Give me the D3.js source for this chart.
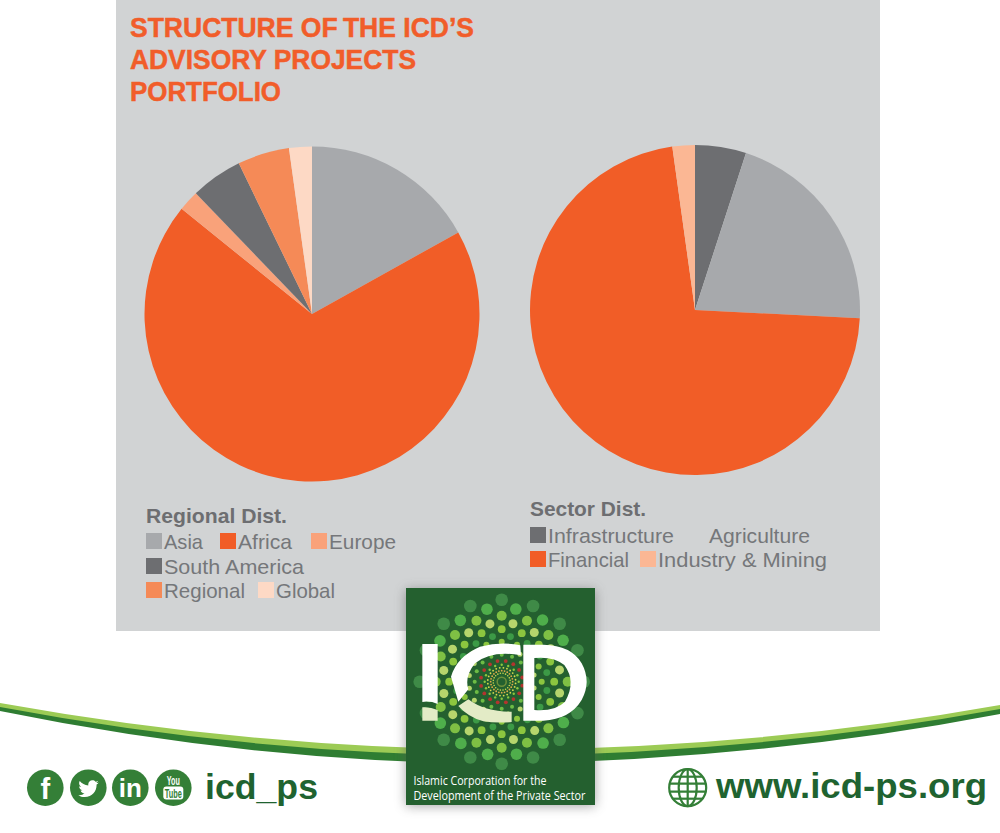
<!DOCTYPE html>
<html>
  <head>
    <meta charset="utf-8">
    <script src="https://cdn.jsdelivr.net/npm/d3@7" type="text/javascript"></script>
    <style>
      html, body { margin: 0; padding: 0; background: #fff; }
      svg { display: block; }
      text { font-family: "Liberation Sans", sans-serif; }
      .title { fill: #f15d2a; stroke: #f15d2a; stroke-width: 0.5px; font-size: 27px; font-weight: bold; }
      .legendhead { fill: #6d6e71; font-size: 21px; font-weight: bold; }
      .legend { fill: #75777a; font-size: 21px; }
      .social { fill: #1f6330; font-size: 35px; font-weight: bold; }
    </style>
  </head>
  <body>
    <svg id="chart" width="1000" height="833"></svg>
    <script>
      var titleLines = ["STRUCTURE OF\u2009THE ICD\u2019S", "ADVISORY PROJECTS", "PORTFOLIO"];

      var regionLabels = ["Asia", "Africa", "Europe", "South America", "Regional", "Global"];
      var regionValues = [16.9, 68.9, 2, 5, 5, 2.2];
      var regionColors = ["#a7a9ac", "#f15d27", "#f9a27a", "#6d6e71", "#f58a57", "#fdd9c5"];

      var sectorLabels = ["Infrastructure", "Agriculture", "Financial", "Industry & Mining"];
      var sectorValues = [5, 20.8, 72, 2.2];
      var sectorColors = ["#6d6e71", "#a7a9ac", "#f15d27", "#fbb794"];

      var svg = d3.select("#chart");

      var defs = svg.append("defs");
      defs.append("filter").attr("id", "blur")
        .attr("x", "-20%").attr("y", "-20%").attr("width", "140%").attr("height", "140%")
        .append("feGaussianBlur").attr("stdDeviation", 6);

      // grey panel
      svg.append("rect").attr("x", 116).attr("y", 0).attr("width", 764).attr("height", 631)
        .style("fill", "#d1d3d4");

      svg.selectAll("text.title").data(titleLines).enter().append("text")
        .attr("class", "title")
        .attr("x", 130)
        .attr("y", (d, i) => 37 + i * 32)
        .attr("textLength", (d, i) => [344, 286, 151][i])
        .attr("lengthAdjust", "spacingAndGlyphs")
        .text(d => d);

      // pies
      function drawPie(labels, values, colors, cx, cy, r) {
        var color = d3.scaleOrdinal().domain(labels).range(colors);
        var pie = d3.pie().sort(null).value((d, i) => values[i]);
        var arc = d3.arc().innerRadius(0).outerRadius(r);
        svg.append("g").attr("transform", "translate(" + cx + "," + cy + ")")
          .selectAll("path").data(pie(labels)).enter().append("path")
          .attr("d", arc)
          .style("fill", d => color(d.data));
        return color;
      }
      var regionColor = drawPie(regionLabels, regionValues, regionColors, 312, 314, 167.5);
      var sectorColor = drawPie(sectorLabels, sectorValues, sectorColors, 695, 310, 165);

      // legends
      function legendItem(label, color, x, y, w) {
        if (color) {
          svg.append("rect").attr("x", x).attr("y", y - 16).attr("width", 16).attr("height", 16)
            .style("fill", color(label));
        }
        svg.append("text").attr("class", "legend").attr("x", x + 18).attr("y", y)
          .attr("textLength", w).attr("lengthAdjust", "spacingAndGlyphs").text(label);
      }
      svg.append("text").attr("class", "legendhead").attr("x", 146).attr("y", 523)
        .attr("textLength", 141).attr("lengthAdjust", "spacingAndGlyphs").text("Regional Dist.");
      legendItem("Asia", regionColor, 146, 549, 39);
      legendItem("Africa", regionColor, 220, 549, 54);
      legendItem("Europe", regionColor, 311, 549, 67);
      legendItem("South America", regionColor, 146, 574, 140);
      legendItem("Regional", regionColor, 146, 598, 81);
      legendItem("Global", regionColor, 258, 598, 59);

      svg.append("text").attr("class", "legendhead").attr("x", 530).attr("y", 516)
        .attr("textLength", 116).attr("lengthAdjust", "spacingAndGlyphs").text("Sector Dist.");
      legendItem("Infrastructure", sectorColor, 530, 543, 126);
      legendItem("Agriculture", null, 691, 543, 101);
      legendItem("Financial", sectorColor, 530, 567, 81);
      legendItem("Industry & Mining", sectorColor, 640, 567, 169);

      // green swoosh
      svg.append("path")
        .attr("d", "M0,704 Q250,752 500,754 Q760,752 1000,707 L1000,714 Q760,760 500,764 Q250,762 0,711 Z")
        .style("fill", "#2f7d32");
      svg.append("path")
        .attr("d", "M0,703 Q250,748 500,750 Q760,748 1000,705 L1000,709 Q760,753 500,756 Q250,754 0,707 Z")
        .style("fill", "#9ccb55");

      // logo
      svg.append("rect").attr("x", 406).attr("y", 590).attr("width", 189).attr("height", 216)
        .style("fill", "#555").style("opacity", 0.55).attr("filter", "url(#blur)");
      svg.append("rect").attr("x", 406).attr("y", 588).attr("width", 189).attr("height", 217)
        .style("fill", "#24602f");

      var logo = svg.append("g").attr("transform", "translate(501.7,681.7)");
      var logoRings = [
        {r: 82, n: 16, off: 0, size: 6.3, fill: "#3f8a47"},
        {r: 74, n: 16, off: 11, size: 5.8, fill: "#4fae4b"},
        {r: 66, n: 16, off: 0, size: 5, fill: "#7fc044"},
        {r: 59, n: 16, off: 11, size: 4.5, fill: "#b6d56c"},
        {r: 52.5, n: 16, off: 0, size: 3.9, fill: "#8cc63f"},
        {r: 46, n: 16, off: 11, size: 3.4, fill: "#3c9a46"},
        {r: 40, n: 16, off: 0, size: 3, fill: "#8cc63f"},
        {r: 33, n: 16, off: 11, size: 2.5, fill: "#b6d56c"},
        {r: 27, n: 16, off: 0, size: 2, fill: "#6dbb45"},
        {r: 21, n: 16, off: 11, size: 1.9, fill: "#b3342f"},
        {r: 17, n: 16, off: 0, size: 1.2, fill: "#8cc63f"},
        {r: 14, n: 24, off: 7, size: 0.9, fill: "#d6d84f"},
        {r: 11, n: 24, off: 0, size: 0.9, fill: "#e0a94a"},
        {r: 8.5, n: 20, off: 9, size: 0.8, fill: "#c9d64e"}
      ];
      logoRings.forEach(function(ring) {
        logo.append("g").selectAll("circle").data(d3.range(ring.n)).enter().append("circle")
          .attr("cx", i => ring.r * Math.sin((i * 360 / ring.n + ring.off) * Math.PI / 180))
          .attr("cy", i => -ring.r * Math.cos((i * 360 / ring.n + ring.off) * Math.PI / 180))
          .attr("r", ring.size)
          .style("fill", ring.fill);
      });
      logo.append("circle").attr("r", 4.5).style("fill", "none").style("stroke", "#6f8f3a").style("stroke-width", 1.5);

      // ICD letters, drawn on a 3x grid
      var letters = svg.append("g").attr("transform", "translate(415,630) scale(0.3333)");
      letters.append("path").style("fill", "#fff").attr("d", "M22,42 H68 V222 Q45,212 22,216 Z");
      letters.append("path").style("fill", "#e3ebc6").attr("d", "M22,232 Q45,230 68,240 V272 H22 Z");
      letters.append("path").style("fill", "#fff")
        .attr("d", "M316,46 Q260,34 195,50 Q125,80 108,140 L130,215 L160,178 Q148,140 180,100 Q230,60 318,76 Z");
      letters.append("path").style("fill", "#e3ebc6")
        .attr("d", "M130,228 L160,208 Q210,246 290,245 V276 Q245,280 205,274 Q160,262 130,228 Z");
      letters.append("path").style("fill", "#fff").attr("fill-rule", "evenodd")
        .attr("d", "M325,44 H385 Q470,46 500,100 Q530,155 500,210 Q465,268 385,272 H325 Z M358,84 V240 Q420,245 450,215 Q485,155 448,105 Q415,78 358,84 Z");

      svg.selectAll("text.logotext")
        .data(["Islamic Corporation for the", "Development of the Private Sector"])
        .enter().append("text")
        .attr("x", 413.5)
        .attr("y", (d, i) => 785 + i * 15)
        .attr("textLength", (d, i) => i ? 172 : 133)
        .attr("lengthAdjust", "spacingAndGlyphs")
        .style("font-family", "'Open Sans', sans-serif")
        .style("font-size", "12.5px")
        .style("fill", "#fff")
        .text(d => d);

      // social row
      var iconX = d3.scaleOrdinal().domain(["f", "t", "in", "yt"]).range([45.3, 88.3, 130.3, 173.3]);
      var icons = svg.append("g");
      iconX.domain().forEach(function(k) {
        icons.append("circle").attr("cx", iconX(k)).attr("cy", 787.7).attr("r", 18.3).style("fill", "#347f37");
      });
      icons.append("text").attr("x", iconX("f")).attr("y", 799).attr("text-anchor", "middle")
        .style("font-size", "29px").style("font-weight", "bold").style("fill", "#fff").text("f");
      icons.append("path").style("fill", "#fff")
        .attr("transform", "translate(" + (iconX("t") - 10) + ",778.5) scale(0.85)")
        .attr("d", "M24,4.6 c-0.9,0.4 -1.8,0.7 -2.8,0.8 c1,-0.6 1.8,-1.6 2.2,-2.7 c-1,0.6 -2,1 -3.1,1.2 C19.3,2.8 18,2.2 16.6,2.2 c-2.7,0 -4.9,2.2 -4.9,4.9 c0,0.4 0,0.8 0.1,1.1 C7.7,8 4.1,6 1.7,3 C1.2,3.7 1,4.6 1,5.5 c0,1.7 0.9,3.2 2.2,4.1 c-0.8,0 -1.6,-0.2 -2.2,-0.6 v0.1 c0,2.4 1.7,4.4 3.9,4.8 c-0.7,0.2 -1.5,0.2 -2.2,0.1 c0.6,2 2.4,3.4 4.6,3.4 C5.6,19 3,19.9 0,19.6 c2.2,1.4 4.7,2.2 7.5,2.2 c9.1,0 14,-7.5 14,-14 l0,-0.6 C22.5,6.4 23.3,5.6 24,4.6 Z");
      icons.append("text").attr("x", iconX("in")).attr("y", 797).attr("text-anchor", "middle")
        .style("font-size", "26px").style("font-weight", "bold").style("fill", "#fff").text("in");
      icons.append("text").attr("x", iconX("yt")).attr("y", 785).attr("text-anchor", "middle")
        .attr("textLength", 13).attr("lengthAdjust", "spacingAndGlyphs")
        .style("font-size", "12px").style("font-weight", "bold").style("fill", "#fff").text("You");
      icons.append("rect").attr("x", iconX("yt") - 10).attr("y", 786.5).attr("width", 20).attr("height", 13).attr("rx", 3)
        .style("fill", "#fff");
      icons.append("text").attr("x", iconX("yt")).attr("y", 797.5).attr("text-anchor", "middle")
        .attr("textLength", 17).attr("lengthAdjust", "spacingAndGlyphs")
        .style("font-size", "12px").style("font-weight", "bold").style("fill", "#347f37").text("Tube");

      svg.append("text").attr("class", "social").attr("x", 205).attr("y", 799)
        .attr("textLength", 113).attr("lengthAdjust", "spacingAndGlyphs").text("icd_ps");
      svg.append("text").attr("class", "social").attr("x", 716).attr("y", 798)
        .attr("textLength", 271).attr("lengthAdjust", "spacingAndGlyphs").text("www.icd-ps.org");

      // globe
      var globe = svg.append("g").attr("transform", "translate(687.7,787.7)")
        .style("fill", "none").style("stroke", "#347f37").style("stroke-width", 2.2);
      globe.append("circle").attr("r", 18.5);
      globe.append("ellipse").attr("rx", 9).attr("ry", 18.5);
      globe.append("line").attr("y1", -18.5).attr("y2", 18.5);
      [-11, -4, 4, 11].forEach(function(dy) {
        var half = Math.sqrt(18.5 * 18.5 - dy * dy);
        globe.append("line").attr("x1", -half).attr("x2", half).attr("y1", dy).attr("y2", dy);
      });
    </script>
  </body>
</html>
